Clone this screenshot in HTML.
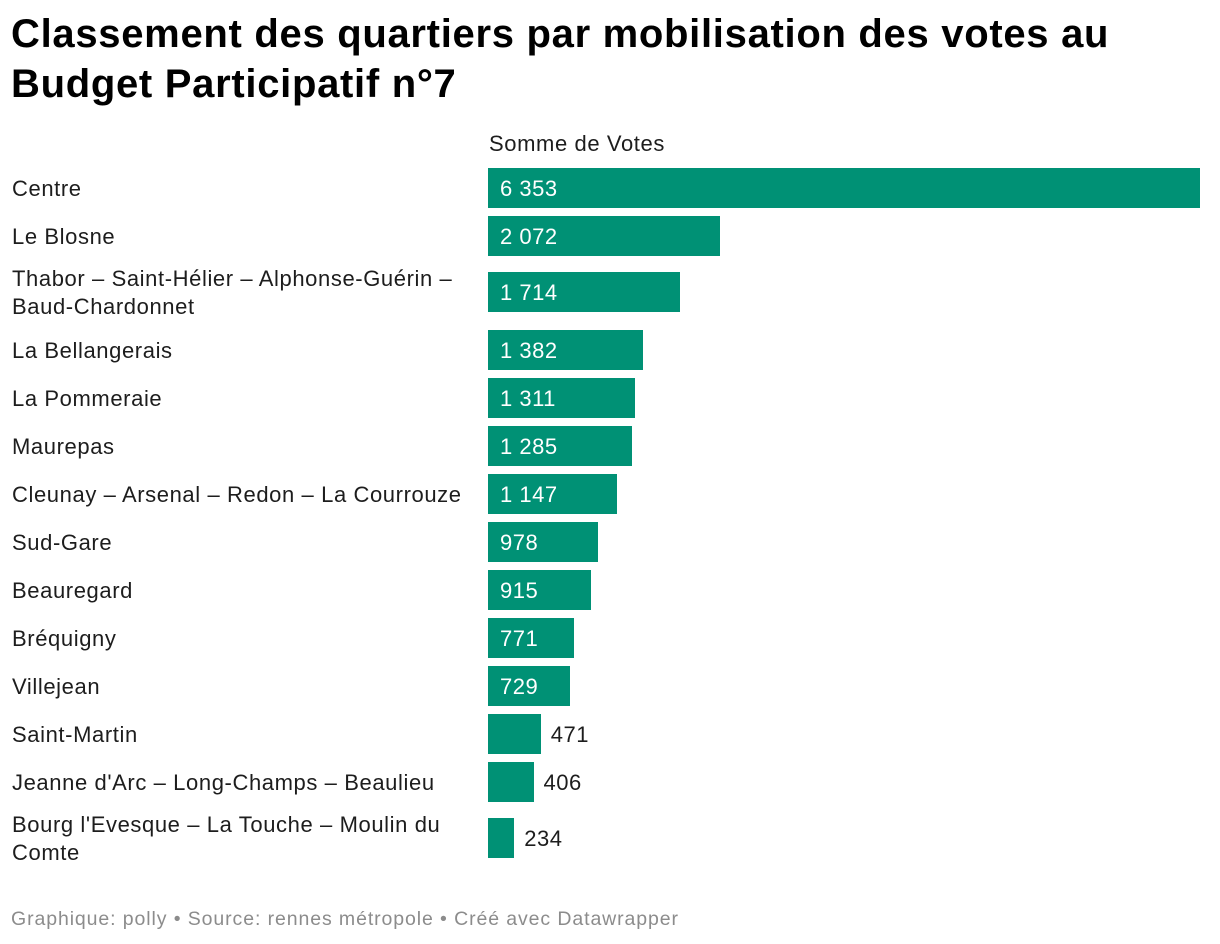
<!DOCTYPE html>
<html><head><meta charset="utf-8"><style>
body{margin:0;width:1220px;height:944px;background:#fff;font-family:"Liberation Sans",sans-serif;color:#1d1d1d;position:relative;overflow:hidden}
h1{position:absolute;left:11px;top:9px;margin:0;font-size:40px;line-height:50px;font-weight:bold;letter-spacing:0.7px;color:#000;white-space:nowrap}
.lbl{position:absolute;left:12px;font-size:22px;line-height:28px;letter-spacing:0.6px;white-space:nowrap}
.bar{position:absolute;left:488px;height:40px;background:#009175}
.val{position:absolute;font-size:22px;line-height:42px;letter-spacing:0.5px}
#hdr{position:absolute;left:489px;top:131px;font-size:22px;letter-spacing:0.6px}
#foot{position:absolute;left:11px;top:908px;font-size:19.5px;color:#8c8c8c;letter-spacing:0.9px}
</style></head><body>
<h1>Classement des quartiers par mobilisation des votes au<br>Budget Participatif n°7</h1>
<div id="hdr">Somme de Votes</div>
<div id="chart"></div>
<div id="foot">Graphique: polly • Source: rennes métropole • Créé avec Datawrapper</div>
<script>
const categories=["Centre","Le Blosne","Thabor – Saint-Hélier – Alphonse-Guérin –\nBaud-Chardonnet","La Bellangerais","La Pommeraie","Maurepas","Cleunay – Arsenal – Redon – La Courrouze","Sud-Gare","Beauregard","Bréquigny","Villejean","Saint-Martin","Jeanne d'Arc – Long-Champs – Beaulieu","Bourg l'Evesque – La Touche – Moulin du\nComte"];
const values=[6353,2072,1714,1382,1311,1285,1147,978,915,771,729,471,406,234];
const labels=["6 353","2 072","1 714","1 382","1 311","1 285","1 147","978","915","771","729","471","406","234"];
const maxV=Math.max(...values);
const x=v=>v/maxV*712;
const chart=document.getElementById('chart');
let cy=188;
categories.forEach((c,i)=>{
  const two=c.includes('\n'), prevTwo=i>0&&categories[i-1].includes('\n');
  if(i>0){cy+=48;if(two)cy+=8;if(prevTwo)cy+=10;}
  const l=document.createElement('div');l.className='lbl';
  
  
  l.innerText=c;l.style.top=(cy-(two?27:13))+'px';chart.appendChild(l);
  const b=document.createElement('div');b.className='bar';
  
  
  const w=x(values[i]);b.style.width=w+'px';b.style.top=(cy-20)+'px';chart.appendChild(b);
  const t=document.createElement('div');t.className='val';
  
  
  t.textContent=labels[i];t.style.top=(cy-20)+'px';
  if(w>70){t.style.left='500px';t.style.color='#fff';}else{t.style.left=(488+w+10)+'px';}
  chart.appendChild(t);
});
</script>
</body></html>
